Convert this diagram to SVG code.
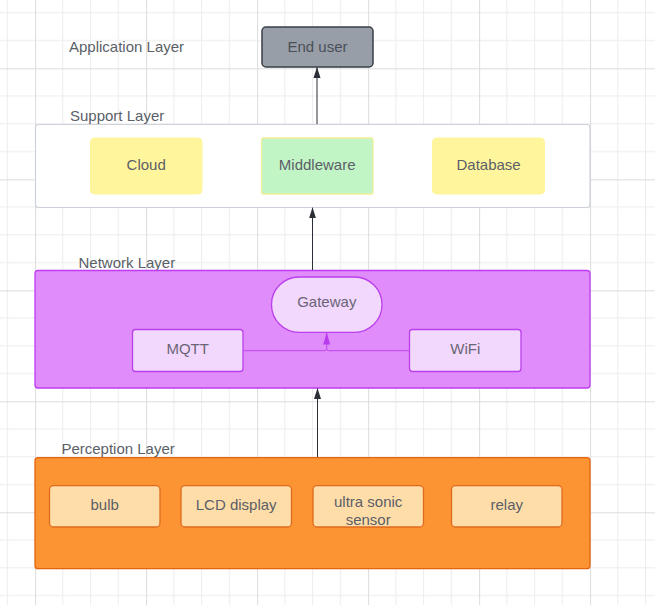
<svg xmlns="http://www.w3.org/2000/svg" width="655" height="605" viewBox="0 0 655 605">
<defs>
<pattern id="grid" patternUnits="userSpaceOnUse" x="35.1" y="68.3" width="111" height="111">
<path d="M27.75,0V111M55.5,0V111M83.25,0V111M0,27.75H111M0,55.5H111M0,83.25H111" stroke="#ececec" stroke-width="1" fill="none"/>
<path d="M0.5,0V111M0,0.5H111" stroke="#dcdcdc" stroke-width="1" fill="none"/>
</pattern>
<marker id="ahBlack" markerUnits="userSpaceOnUse" markerWidth="11" markerHeight="8" refX="10.5" refY="3.5" orient="auto" viewBox="0 0 11 7">
<path d="M0,0L11,3.5L0,7z" fill="#2b2f38"/>
</marker>
<marker id="ahPurple" markerUnits="userSpaceOnUse" markerWidth="12" markerHeight="8" refX="11.5" refY="3.5" orient="auto" viewBox="0 0 12 7">
<path d="M0,0L12,3.5L0,7z" fill="#b83cec"/>
</marker>
</defs>
<style>
text{font-family:"Liberation Sans",Arial,sans-serif;font-size:15px;fill:#5b5f68}
.c{text-anchor:middle}
.yel{fill:#fff59c;stroke:#fff59c;stroke-width:1}
.pur{fill:#f2d8fd;stroke:#bb3fea;stroke-width:1.3}
.org{fill:#fedda8;stroke:#df6a1e;stroke-width:1.3}
.conn{fill:none;stroke:#2b2f38;stroke-width:1}
.pconn{fill:none;stroke:#bf45ee;stroke-width:1}
</style>
<rect x="0" y="0" width="655" height="605" fill="#ffffff"/>
<rect x="0" y="0" width="655" height="605" fill="url(#grid)"/>

<g id="application-layer">
<text x="69" y="51.5">Application Layer</text>
</g>
<g id="end-user">
<rect x="262" y="27" width="111" height="40" rx="4" fill="#979ea8" stroke="#3a3f47" stroke-width="1.5"/>
<text class="c" x="317.5" y="52" fill="#4a4f57" style="fill:#4a4f57">End user</text>
</g>

<g id="support-layer">
<text x="70" y="121">Support Layer</text>
<rect x="35.5" y="124.5" width="554.5" height="83" rx="3" fill="#ffffff" stroke="#ccd1da" stroke-width="1.2"/>
</g>
<g id="cloud">
<rect class="yel" x="90.5" y="138" width="111.5" height="56" rx="4"/>
<text class="c" x="146.2" y="170">Cloud</text>
</g>
<g id="middleware">
<rect x="261.5" y="138" width="111.5" height="56" rx="2" fill="#c2f5c6" stroke="#f2ee9a" stroke-width="1.3"/>
<text class="c" x="317.2" y="170">Middleware</text>
</g>
<g id="database">
<rect class="yel" x="432.5" y="138" width="112" height="56" rx="4"/>
<text class="c" x="488.6" y="170">Database</text>
</g>

<g id="network-layer">
<text x="78.5" y="267.7">Network Layer</text>
<rect x="35" y="270.5" width="555" height="117.5" rx="3" fill="#e08cfb" stroke="#bf3bf2" stroke-width="1.3"/>
</g>
<g id="gateway">
<rect class="pur" x="271.5" y="277" width="110.5" height="55.3" rx="27.6"/>
<text class="c" x="326.8" y="307.3" style="fill:#6a6576">Gateway</text>
</g>
<g id="mqtt">
<rect class="pur" x="132.5" y="329.5" width="110.5" height="42" rx="3"/>
<text class="c" x="187.7" y="353.5" style="fill:#6a6576">MQTT</text>
</g>
<g id="wifi">
<rect class="pur" x="409.5" y="329.5" width="111.5" height="42" rx="3"/>
<text class="c" x="465.3" y="353.5" style="fill:#6a6576">WiFi</text>
</g>

<g id="perception-layer">
<text x="61.4" y="454.4">Perception Layer</text>
<rect x="35" y="457.7" width="555" height="111" rx="3" fill="#fc9433" stroke="#e3650f" stroke-width="1.3"/>
</g>
<g id="bulb">
<rect class="org" x="49.5" y="485.7" width="110.5" height="41.3" rx="4"/>
<text class="c" x="104.7" y="510">bulb</text>
</g>
<g id="lcd-display">
<rect class="org" x="181" y="485.7" width="110.5" height="41.3" rx="4"/>
<text class="c" x="236.2" y="510">LCD display</text>
</g>
<g id="ultra-sonic-sensor">
<rect class="org" x="313" y="485.7" width="110.5" height="41.3" rx="4"/>
<text class="c" x="368.2" y="506.7">ultra sonic</text>
<text class="c" x="368.2" y="525">sensor</text>
</g>
<g id="relay">
<rect class="org" x="451.5" y="485.7" width="110.5" height="41.3" rx="4"/>
<text class="c" x="506.8" y="510">relay</text>
</g>

<g id="connectors">
<path class="conn" d="M317,124V67.5" marker-end="url(#ahBlack)"/>
<path class="conn" d="M312.5,270V207.8" marker-end="url(#ahBlack)"/>
<path class="conn" d="M317.5,457V388.5" marker-end="url(#ahPurple)" style="marker-end:url(#ahBlack)"/>
<path class="pconn" d="M243,350.7H324.7Q326.7,350.7 326.7,348.7V333" marker-end="url(#ahPurple)"/>
<path class="pconn" d="M409.5,350.7H328.7Q326.7,350.7 326.7,348.7"/>
</g>
</svg>
